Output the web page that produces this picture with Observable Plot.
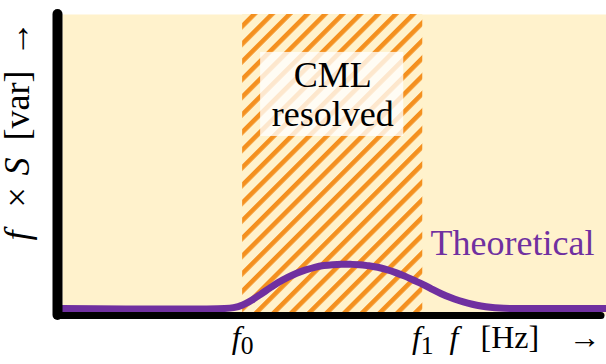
<!DOCTYPE html>
<html><head><meta charset="utf-8">
<script src="https://cdn.jsdelivr.net/npm/d3@7"></script>
<script src="https://cdn.jsdelivr.net/npm/@observablehq/plot@0.6"></script>
<style>html,body{margin:0;padding:0;background:#fff} svg{display:block}</style>
</head><body><div id="chart"></div>
<script>
// Frequency positions (arbitrary units) and the theoretical f×S curve
const freq        = [0, 9.0, 9.5, 10.0, 10.5, 11.0, 11.5, 12.0, 12.5, 13.0, 13.5, 14.0, 14.5, 15.0, 15.5, 16.0, 16.5, 17.0, 17.5, 18.0, 18.5, 19.0, 19.5, 20.0, 20.5, 21.0, 21.5, 22.0, 22.5, 23.0, 23.5, 24.0, 24.5, 25.0, 30.2];
const theoretical = [0, 0,   0.3, 1.2,  2.8,  4.8,  6.9,  8.9,  10.6, 12.0, 13.1, 14.0, 14.6, 14.9, 15.0, 15.0, 14.9, 14.5, 14.0, 13.2, 12.2, 11.0, 9.6,  8.2,  6.6,  5.1,  3.8,  2.7,  1.8,  1.1,  0.6,  0.25, 0.05, 0,    0];
// CML-resolved band edges f0, f1
const bandEdges  = [10, 20];
const tickLabels = ["f0", "f1"];
const bandLabel  = "CML\nresolved";
const seriesName = "Theoretical";
const xLabel = "f [Hz] →";
const yLabel = "f × S [var] →";

const xDomain = [0, 30.2];
const yDomain = [-2.4, 100];
const purple = "#7030a0", cream = "#fff2cc", orange = "#f4901f";

const band = [{f0: bandEdges[0], f1: bandEdges[1]}];
const mid = (bandEdges[0] + bandEdges[1]) / 2;

const svg = Plot.plot({
  width: 606, height: 364,
  marginLeft: 62, marginRight: 0, marginTop: 14, marginBottom: 49,
  x: {domain: xDomain, axis: null},
  y: {domain: yDomain, axis: null},
  style: {fontFamily: "Liberation Serif", fontSize: "36px", background: "white", color: "black"},
  marks: [
    Plot.frame({fill: cream, stroke: "none"}),
    Plot.rect(band, {x1: "f0", x2: "f1", y1: yDomain[0], y2: yDomain[1], fill: "url(#hatch)"}),
    Plot.rect(band, {x1: "f0", x2: "f1", y1: 58.5, y2: 87.1, insetLeft: 18, insetRight: 19, fill: "white", fillOpacity: 0.78}),
    Plot.text([bandLabel], {x: mid, y: 72.8, text: d => d, lineHeight: 1.08, fill: "black", fontSize: 36}),
    Plot.line(theoretical, {x: (d, i) => freq[i], y: d => d, stroke: purple, strokeWidth: 7, curve: "catmull-rom"}),
    Plot.text([seriesName], {x: xDomain[1], y: 22, text: d => d, textAnchor: "end", dx: -12, fill: purple, fontSize: 36}),
    Plot.ruleX([xDomain[0]], {y1: yDomain[0], y2: yDomain[1], stroke: "black", strokeWidth: 10, strokeLinecap: "round", dx: -5}),
    Plot.ruleY([yDomain[0]], {x1: xDomain[0], x2: xDomain[1], stroke: "black", strokeWidth: 7, strokeLinecap: "round", dx: -5}),
    Plot.text(bandEdges, {x: d => d, text: (d, i) => tickLabels[i], frameAnchor: "bottom", dy: 32, fontSize: 32, fill: "black"}),
    Plot.text([xLabel], {frameAnchor: "bottom-right", text: d => d, textAnchor: "start", dx: -159, dy: 32, fontSize: 32, fill: "black"}),
    Plot.text([yLabel], {frameAnchor: "bottom-left", text: d => d, rotate: -90, textAnchor: "start", dx: -34, dy: -72, fontSize: 36, fill: "black"})
  ]
});

// hatch pattern
const defs = d3.select(svg).insert("defs", ":first-child");
const pat = defs.append("pattern").attr("id", "hatch").attr("patternUnits", "userSpaceOnUse")
  .attr("width", 12.5).attr("height", 12.5).attr("patternTransform", "rotate(45)");
pat.append("rect").attr("width", 12.5).attr("height", 12.5).attr("fill", cream);
pat.append("rect").attr("width", 4.6).attr("height", 12.5).attr("fill", orange);

// rich text: italic variables, subscripts, math-like spacing
function rich(match, partsFor) {
  d3.select(svg).selectAll("text").each(function() {
    if (this.querySelector("tspan")) return;
    const s = this.textContent;
    if (!match(s)) return;
    const t = d3.select(this);
    const base = +(this.getAttribute("x") || 0);
    t.text(null);
    for (const p of partsFor(s)) {
      const ts = t.append("tspan").text(p.t);
      if (p.i) ts.attr("font-style", "italic");
      if (p.sub) ts.attr("font-size", "0.8em").attr("dy", "0.25em");
      if (p.x != null) { t.attr("text-anchor", "start"); ts.attr("x", base + p.x); }
    }
  });
}
rich(s => tickLabels.includes(s), s => [{t: s[0], i: true}, {t: s.slice(1), sub: true}]);
rich(s => s === xLabel, s => [{t: "f", i: true, x: 2}, {t: "[Hz]", x: 33}, {t: "→", x: 121}]);
rich(s => s === yLabel, s => [{t: "f", i: true, x: 3}, {t: "×", x: 36}, {t: "S", i: true, x: 68}, {t: "[var]", x: 103}, {t: "→", x: 187}]);

document.getElementById("chart").appendChild(svg);
</script>
</body></html>
